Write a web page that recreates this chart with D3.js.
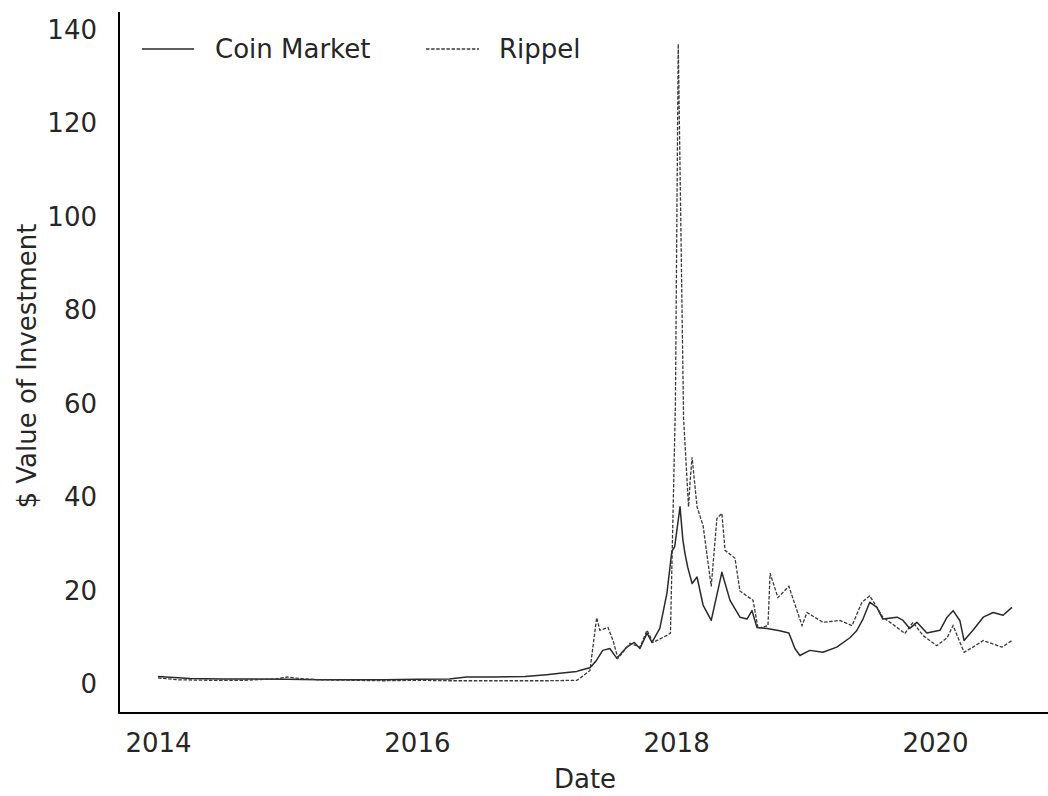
<!DOCTYPE html>
<html>
<head>
<meta charset="utf-8">
<script src="https://cdn.jsdelivr.net/npm/d3@7"></script>
<style>
  body { margin: 0; background: white; }
  svg text { font-family: "DejaVu Sans", sans-serif; fill: #262626; }
</style>
</head>
<body>
<svg id="chart" width="1048" height="796"></svg>
<script>
// ##########################################   DATA
const coinDates = [
  "2014-01-01","2014-02-15","2014-04-01","2014-07-01","2014-10-01","2015-01-01",
  "2015-04-01","2015-07-01","2015-10-01","2016-01-01","2016-04-01","2016-05-20",
  "2016-08-01","2016-11-01","2017-01-01","2017-02-07","2017-03-27","2017-04-04",
  "2017-05-03","2017-05-20","2017-06-08","2017-06-28","2017-07-18","2017-08-15",
  "2017-09-05","2017-09-21","2017-10-11","2017-10-25","2017-11-16","2017-12-06",
  "2017-12-20","2017-12-28","2018-01-12","2018-01-20","2018-01-26","2018-02-03",
  "2018-02-15","2018-03-01","2018-03-18","2018-04-10","2018-05-10","2018-06-02",
  "2018-06-30","2018-07-20","2018-08-03","2018-08-17","2018-09-14","2018-10-20",
  "2018-11-15","2018-12-02","2018-12-16","2019-01-13","2019-02-19","2019-03-30",
  "2019-05-06","2019-05-25","2019-06-12","2019-07-01","2019-07-21","2019-08-07",
  "2019-09-16","2019-10-03","2019-10-22","2019-11-11","2019-12-09","2020-01-15",
  "2020-02-04","2020-02-21","2020-03-11","2020-03-23","2020-04-17","2020-05-16",
  "2020-06-13","2020-07-11","2020-08-05"
];
const coinValues = [
  1.7, 1.5, 1.3, 1.2, 1.2, 1.1,
  1.0, 1.0, 1.0, 1.1, 1.2, 1.6,
  1.6, 1.7, 2.1, 2.4, 2.8, 3.0,
  3.6, 5.0, 7.3, 7.7, 5.6, 8.0,
  9.0, 7.7, 11.0, 9.0, 12.0, 19.5,
  28.5, 29.5, 38.0, 31.0, 28.0, 25.0,
  21.6, 23.0, 17.0, 13.7, 24.0, 18.0,
  14.4, 14.0, 15.8, 12.2, 12.0, 11.5,
  11.0, 7.7, 6.2, 7.3, 6.9, 8.0,
  10.0, 11.5, 14.0, 17.6, 16.5, 14.0,
  14.4, 13.7, 12.0, 13.3, 11.0, 11.6,
  14.4, 15.8, 13.7, 9.4, 11.6, 14.4,
  15.4, 14.8, 16.5
];

const rippleDates = [
  "2014-01-01","2014-03-01","2014-06-01","2014-09-01","2014-12-01","2015-01-01",
  "2015-02-01","2015-04-01","2015-07-01","2015-10-01","2016-01-01","2016-04-01",
  "2016-07-01","2016-10-01","2017-01-01","2017-03-27","2017-04-04","2017-05-03",
  "2017-05-22","2017-05-31","2017-06-23","2017-07-07","2017-07-21","2017-08-24",
  "2017-09-21","2017-10-11","2017-10-28","2017-12-06","2017-12-16","2017-12-30",
  "2018-01-07","2018-01-14","2018-01-22","2018-02-05","2018-02-10","2018-02-15",
  "2018-03-01","2018-03-18","2018-04-10","2018-04-26","2018-05-10","2018-05-19",
  "2018-06-16","2018-06-30","2018-08-06","2018-08-20","2018-09-17","2018-09-23",
  "2018-10-15","2018-11-15","2018-12-22","2019-01-05","2019-02-19","2019-04-08",
  "2019-05-12","2019-06-09","2019-07-01","2019-08-07","2019-09-16","2019-10-08",
  "2019-10-31","2019-11-28","2020-01-06","2020-02-04","2020-02-21","2020-03-06",
  "2020-03-23","2020-04-17","2020-05-16","2020-07-08","2020-08-05"
];
const rippleValues = [
  1.4, 1.0, 0.9, 0.9, 1.2, 1.6,
  1.3, 1.0, 0.9, 0.8, 0.9, 0.8,
  0.8, 0.8, 0.8, 0.9, 1.3, 3.0,
  14.3, 11.6, 12.2, 9.4, 5.6, 8.8,
  8.0, 11.6, 9.0, 10.5, 11.0, 60.0,
  137.0, 100.0, 57.0, 38.0, 44.0, 48.6,
  38.0, 34.0, 21.0, 35.5, 36.6, 28.7,
  27.0, 20.0, 18.0, 12.0, 12.6, 23.8,
  18.6, 21.0, 12.6, 15.4, 13.3, 13.7,
  12.6, 17.6, 19.0, 14.4, 12.2, 10.9,
  13.3, 10.5, 8.3, 10.0, 12.6, 10.0,
  6.9, 8.0, 9.4, 8.0, 9.4
];

const xTickYears = [2014, 2016, 2018, 2020];
const yTickValues = [0, 20, 40, 60, 80, 100, 120, 140];
const seriesNames = ["Coin Market", "Rippel"];

// ##########################################   BUILDING THE CHART
const parse = d3.timeParse("%Y-%m-%d");
const coin = coinDates.map((d, i) => ({ date: parse(d), value: coinValues[i] }));
const ripple = rippleDates.map((d, i) => ({ date: parse(d), value: rippleValues[i] }));

const svg = d3.select("#chart");
const plotLeft = 119, plotBottom = 713, plotTop = 12, plotRight = 1048;
const fontSize = "26px";

// scales pinned on the tick positions
const x = d3.scaleTime()
  .domain([new Date(2014, 0, 1), new Date(2020, 0, 1)])
  .range([158, 935]);
const y = d3.scaleLinear()
  .domain([0, 140])
  .range([684.5, 30]);

// y axis (no tick marks, just labels)
const yAxis = svg.append("g")
  .attr("transform", `translate(${plotLeft},0)`)
  .call(d3.axisLeft(y).tickValues(yTickValues).tickSize(0).tickPadding(22));
yAxis.select(".domain").remove();
yAxis.selectAll("text").style("font-size", fontSize).attr("fill", "#262626");

// x axis
const xAxis = svg.append("g")
  .attr("transform", `translate(0,${plotBottom})`)
  .call(d3.axisBottom(x)
    .tickValues(xTickYears.map(yr => new Date(yr, 0, 1)))
    .tickFormat(d3.timeFormat("%Y"))
    .tickSize(0).tickPadding(21));
xAxis.select(".domain").remove();
xAxis.selectAll("text").style("font-size", fontSize).attr("fill", "#262626");

// spines: left and bottom only
svg.append("line")
  .attr("x1", plotLeft).attr("x2", plotLeft).attr("y1", plotTop).attr("y2", plotBottom + 1)
  .attr("stroke", "#000").attr("stroke-width", 2);
svg.append("line")
  .attr("x1", plotLeft - 1).attr("x2", plotRight).attr("y1", plotBottom).attr("y2", plotBottom)
  .attr("stroke", "#000").attr("stroke-width", 2);

// lines
const line = d3.line()
  .x(d => x(d.date))
  .y(d => y(d.value));

svg.append("path")
  .datum(coin)
  .attr("d", line)
  .attr("fill", "none")
  .attr("stroke", "#2a2a2a")
  .attr("stroke-width", 1.5)
  .attr("stroke-linejoin", "round");

svg.append("path")
  .datum(ripple)
  .attr("d", line)
  .attr("fill", "none")
  .attr("stroke", "#3a3a3a")
  .attr("stroke-width", 1.3)
  .attr("stroke-dasharray", "3.5,1.6");

// legend
const legend = svg.append("g");
legend.append("line")
  .attr("x1", 142).attr("x2", 194).attr("y1", 49).attr("y2", 49)
  .attr("stroke", "#2a2a2a").attr("stroke-width", 1.5);
legend.append("text")
  .attr("x", 215).attr("y", 49).attr("dy", "0.35em")
  .style("font-size", fontSize)
  .text(seriesNames[0]);
legend.append("line")
  .attr("x1", 426).attr("x2", 479).attr("y1", 49).attr("y2", 49)
  .attr("stroke", "#3a3a3a").attr("stroke-width", 1.3)
  .attr("stroke-dasharray", "3.5,1.6");
legend.append("text")
  .attr("x", 499).attr("y", 49).attr("dy", "0.35em")
  .style("font-size", fontSize)
  .text(seriesNames[1]);

// axis titles
svg.append("text")
  .attr("x", 585).attr("y", 788)
  .attr("text-anchor", "middle")
  .style("font-size", fontSize)
  .text("Date");
svg.append("text")
  .attr("transform", "translate(36,366) rotate(-90)")
  .attr("text-anchor", "middle")
  .style("font-size", fontSize)
  .text("$ Value of Investment");
</script>
</body>
</html>
